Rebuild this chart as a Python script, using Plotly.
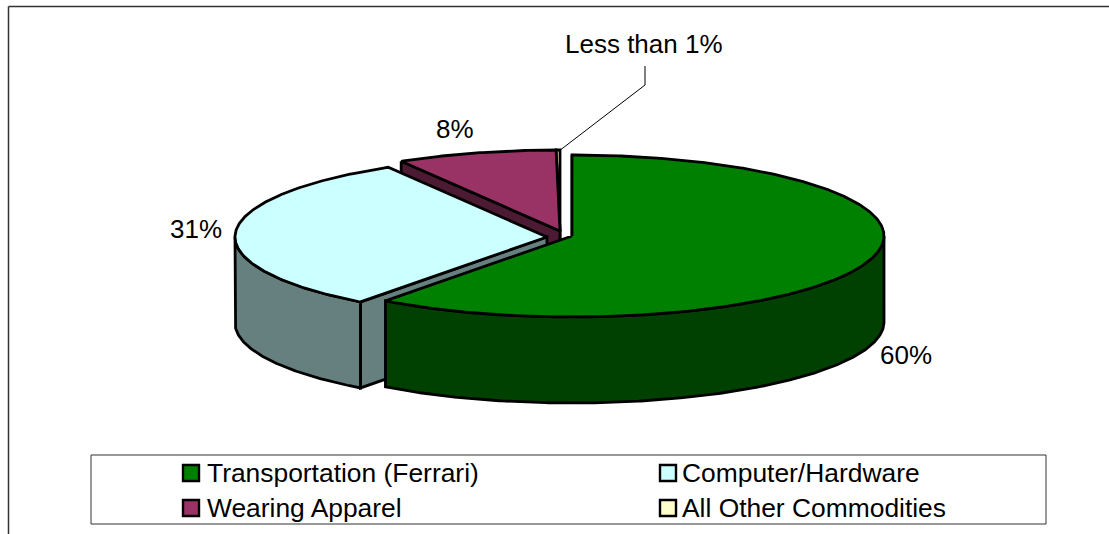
import numpy as np
import plotly.graph_objects as go

categories = ["Transportation (Ferrari)", "Computer/Hardware", "Wearing Apparel", "All Other Commodities"]
shares = [60.2, 31.3, 8.3, 0.2]
slice_labels = ["60%", "31%", "8%", "Less than 1%"]
top_colors = ["#008000", "#CCFFFF", "#993366", "#FFFFCC"]
side_colors = ["#004000", "#668080", "#4D1A33", "#4D1A33"]

# pie layout in pixel units of the hidden axes
centres = [(572, 236), (547, 237), (560, 231), (560, 231)]
RX, RY, DEPTH = 312, 81, 86
draw_order = [3, 2, 1, 0]
label_pos = [(906, 355), (196, 229), (455, 129), (644, 44)]
swatch_pos = [(191, 473), (668, 473), (191, 508), (668, 508)]
legend_text_x = [207, 682, 207, 682]
LABEL_SIZE = 26
LEGEND_SIZE = 26.4
FONT = "Liberation Sans, Arial, sans-serif"

fig = go.Figure()


def poly(xs, ys, fill):
    fig.add_trace(go.Scatter(x=xs, y=ys, mode="lines", fill="toself", fillcolor=fill,
                             line=dict(color="black", width=2.8), hoverinfo="skip", showlegend=False))


def arc(i, a0, a1, dy=0):
    t = np.radians(np.linspace(a0, a1, max(int(abs(a1 - a0)) * 2, 2)))
    cx, cy = centres[i]
    return cx + RX * np.sin(t), cy - RY * np.cos(t) + dy


edges = np.concatenate([[0], np.cumsum(shares)]) * 3.6

for i in draw_order:
    a0, a1 = edges[i], edges[i + 1]
    cx, cy = centres[i]
    # cut wall from the start of the slice to the centre
    if a1 > 180:
        ex, ey = arc(i, a0, a0)
        ex, ey = ex[0], ey[0]
        poly([ex, cx, cx, ex, ex], [ey, cy, cy + DEPTH, ey + DEPTH, ey], side_colors[i])
    # curved outer wall (front half only)
    v0, v1 = max(a0, 90), min(a1, 270)
    if v1 > v0:
        x, y = arc(i, v0, v1)
        bx, by = arc(i, v1, v0, DEPTH)
        poly(list(x) + list(bx) + [x[0]], list(y) + list(by) + [y[0]], side_colors[i])
    x, y = arc(i, a0, a1)
    poly([cx] + list(x) + [cx], [cy] + list(y) + [cy], top_colors[i])

# leader line of the smallest slice
fig.add_trace(go.Scatter(x=[559, 645, 645], y=[151, 85, 66], mode="lines",
                         line=dict(color="black", width=1), hoverinfo="skip", showlegend=False))

# legend swatches
fig.add_trace(go.Scatter(x=[p[0] for p in swatch_pos], y=[p[1] for p in swatch_pos], mode="markers",
                         marker=dict(symbol="square", size=16, color=top_colors,
                                     line=dict(color="black", width=2.4)),
                         hoverinfo="skip", showlegend=False))

ann = [dict(x=x, y=y, text=t, showarrow=False, xanchor="center", yanchor="middle",
            font=dict(size=LABEL_SIZE))
       for (x, y), t in zip(label_pos, slice_labels)]
ann += [dict(x=tx, y=p[1], text=t, showarrow=False, xanchor="left", yanchor="middle", xshift=-2,
             font=dict(size=LEGEND_SIZE))
        for tx, p, t in zip(legend_text_x, swatch_pos, categories)]

frame = dict(color="#333333", width=1.5)
shapes = [
    dict(type="line", x0=8.5, x1=8.5, y0=6.5, y1=534, line=frame),
    dict(type="line", x0=8.5, x1=1109, y0=6.5, y1=6.5, line=frame),
    dict(type="rect", x0=91, x1=1046, y0=455, y1=524, line=dict(color="#333333", width=1),
         fillcolor="white", layer="below"),
]

fig.update_layout(
    width=1109, height=534, margin=dict(l=0, r=0, t=0, b=0), showlegend=False,
    paper_bgcolor="white", plot_bgcolor="white",
    font=dict(family=FONT, size=LABEL_SIZE, color="black"),
    xaxis=dict(range=[0, 1109], visible=False, fixedrange=True),
    yaxis=dict(range=[534, 0], visible=False, fixedrange=True),
    annotations=ann, shapes=shapes,
)
fig.write_html("out.html", config=dict(displayModeBar=False),
               post_script="document.body.style.margin='0';document.body.style.overflow='hidden';")
